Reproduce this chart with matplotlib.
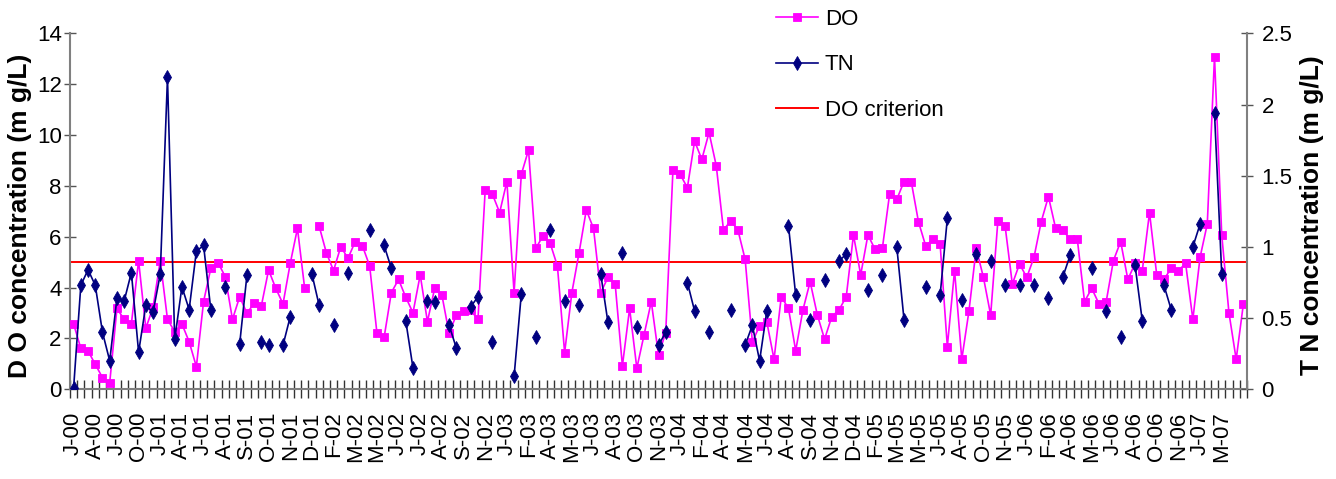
import matplotlib
matplotlib.use("Agg")
import matplotlib.pyplot as plt
from matplotlib.ticker import FixedLocator
import numpy as np

nan = np.nan

# DO concentration (mg/L), one value per sampling date
do_values = [
    2.57, 1.61, 1.51, 0.98, 0.46, 0.26, 3.18, 2.75, 2.57, 5.06,
    2.40, 3.22, 5.06, 2.75, 2.27, 2.57, 1.87, 0.89, 3.45, 4.76,
    4.98, 4.43, 2.75, 3.64, 2.99, 3.38, 3.28, 4.69, 3.97, 3.36,
    4.95, 6.33, 3.97, nan, 6.42, 5.37, 4.67, 5.61, 5.15, 5.81,
    5.64, 4.85, 2.23, 2.04, 3.80, 4.32, 3.62, 3.01, 4.50, 2.66,
    3.97, 3.71, 2.20, 2.92, 3.09, 3.10, 2.75, 7.84, 7.67, 6.95,
    8.17, 3.80, 8.45, 9.41, 5.54, 6.03, 5.74, 4.85, 1.44, 3.80,
    5.37, 7.05, 6.33, 3.80, 4.40, 4.14, 0.92, 3.18, 0.83, 2.14,
    3.45, 1.35, 2.23, 8.62, 8.45, 7.93, 9.76, 9.04, 10.10, 8.79,
    6.26, 6.63, 6.26, 5.11, 1.87, 2.49, 2.65, 1.18, 3.64, 3.18,
    1.52, 3.12, 4.23, 2.92, 1.97, 2.86, 3.12, 3.64, 6.07, 4.50,
    6.07, 5.50, 5.54, 7.67, 7.47, 8.17, 8.17, 6.59, 5.64, 5.90,
    5.71, 1.68, 4.67, 1.18, 3.09, 5.54, 4.40, 2.92, 6.63, 6.42,
    4.14, 4.93, 4.40, 5.19, 6.59, 7.58, 6.33, 6.26, 5.90, 5.90,
    3.45, 3.97, 3.36, 3.45, 5.06, 5.81, 4.32, 4.95, 4.67, 6.95,
    4.50, 4.32, 4.76, 4.67, 4.95, 2.75, 5.19, 6.50, 13.08, 6.07,
    3.01, 1.18, 3.36,
]

# TN concentration (mg/L), gaps where not sampled
tn_values = [
    0.01, 0.73, 0.84, 0.73, 0.40, 0.20, 0.64, 0.62, 0.82, 0.26,
    0.59, 0.54, 0.81, 2.19, 0.35, 0.72, 0.56, 0.97, 1.01, 0.56,
    nan, 0.72, nan, 0.32, 0.80, nan, 0.33, 0.31, nan, 0.31,
    0.51, nan, nan, 0.81, 0.59, nan, 0.45, nan, 0.82, nan,
    nan, 1.12, nan, 1.01, 0.85, nan, 0.48, 0.15, nan, 0.62,
    0.61, nan, 0.45, 0.29, nan, 0.58, 0.65, nan, 0.33, nan,
    nan, 0.09, 0.67, nan, 0.37, nan, 1.12, nan, 0.62, nan,
    0.59, nan, nan, 0.81, 0.47, nan, 0.96, nan, 0.44, nan,
    nan, 0.31, 0.40, nan, nan, 0.75, 0.55, nan, 0.40, nan,
    nan, 0.56, nan, 0.31, 0.45, 0.20, 0.55, nan, nan, 1.15,
    0.66, nan, 0.49, nan, 0.77, nan, 0.90, 0.95, nan, nan,
    0.70, nan, 0.80, nan, 1.00, 0.49, nan, nan, 0.72, nan,
    0.66, 1.20, nan, 0.63, nan, 0.95, nan, 0.90, nan, 0.73,
    nan, 0.73, nan, 0.73, nan, 0.64, nan, 0.79, 0.94, nan,
    nan, 0.85, nan, 0.55, nan, 0.37, nan, 0.87, 0.48, nan,
    nan, 0.73, 0.56, nan, nan, 1.00, 1.16, nan, 1.94, 0.81,
    nan, nan, nan,
]

do_criterion = 5.0

x_labels = [
    "J-00", "A-00", "J-00", "O-00", "J-01", "A-01", "J-01", "A-01", "S-01",
    "O-01", "N-01", "D-01", "F-02", "M-02", "M-02", "J-02", "J-02", "A-02",
    "S-02", "N-02", "J-03", "F-03", "A-03", "M-03", "J-03", "A-03", "O-03",
    "N-03", "J-04", "F-04", "A-04", "M-04", "J-04", "A-04", "S-04", "N-04",
    "D-04", "F-05", "M-05", "M-05", "J-05", "A-05", "O-05", "N-05", "J-06",
    "F-06", "A-06", "M-06", "J-06", "A-06", "O-06", "N-06", "J-07", "M-07",
]
label_step = 3

FONT = ["Liberation Sans", "DejaVu Sans"]
plt.rcParams["font.family"] = FONT

W, H = 1336, 479
fig = plt.figure(figsize=(W / 100, H / 100), dpi=100)
left, right, top, bottom = 70, 1247, 33.3, 389.3
ax = fig.add_axes([left / W, 1 - bottom / H, (right - left) / W, (bottom - top) / H])
ax2 = ax.twinx()

n = len(do_values)
x = np.arange(n)

ax.axhline(do_criterion, color="#ff0000", lw=1.4, zorder=1)
ax.plot(x, do_values, color="#ff00ff", lw=1.2, marker="s", ms=6.0,
        mew=0.6, zorder=3)
ax2.plot(x, tn_values, color="#000080", lw=1.2, marker="d", ms=7.0,
         mew=0.6, zorder=3)

ax.set_xlim(-0.5, n - 0.5)
ax.set_ylim(0, 14)
ax2.set_ylim(0, 2.5)

ax.set_yticks(np.arange(0, 15, 2))
ax.set_yticklabels([str(v) for v in range(0, 15, 2)])
ax2.set_yticks([0, 0.5, 1, 1.5, 2, 2.5])
ax2.set_yticklabels(["0", "0.5", "1", "1.5", "2", "2.5"])

# labels under every third date, tick marks between all dates
ax.xaxis.set_major_locator(FixedLocator(np.arange(0, label_step * len(x_labels), label_step)))
ax.set_xticklabels(x_labels, rotation=90, fontsize=16)
ax.xaxis.set_minor_locator(FixedLocator(np.arange(-0.5, n, 1)))
ax.tick_params(axis="x", which="major", length=0, pad=16)
ax.tick_params(axis="x", which="minor", length=13, direction="inout",
               width=1, color="#333333")

ax.tick_params(axis="y", length=8, direction="inout", width=1,
               color="#555555", labelsize=16, pad=2)
ax2.tick_params(axis="y", length=9, direction="inout", width=1,
                color="#555555", labelsize=16, pad=6)

for a in (ax, ax2):
    a.spines["top"].set_visible(False)
    for s in ("left", "right", "bottom"):
        a.spines[s].set_color("#808080")
        a.spines[s].set_linewidth(1.5)
ax2.spines["bottom"].set_visible(False)
ax.spines["right"].set_visible(False)
ax2.spines["left"].set_visible(False)

fig.text(20 / W, 1 - 216 / H, "D O concentration (m g/L)", rotation=90,
         ha="center", va="center", fontsize=19, fontweight="bold")
fig.text(1312 / W, 1 - 215 / H, "T N concentration (m g/L)", rotation=90,
         ha="center", va="center", fontsize=19, fontweight="bold")

h1 = ax.lines[1]
h2 = ax2.lines[0]
h3 = ax.lines[0]
ax2.legend([h1, h2, h3], ["DO", "TN", "DO criterion"],
           loc="upper left", bbox_to_anchor=(776 / W, 1 - 9 / H),
           bbox_transform=fig.transFigure, frameon=False, fontsize=16,
           handlelength=1.9, handletextpad=0.3, labelspacing=1.1,
           borderpad=0, borderaxespad=0)

fig.savefig("out.png", dpi=100)
